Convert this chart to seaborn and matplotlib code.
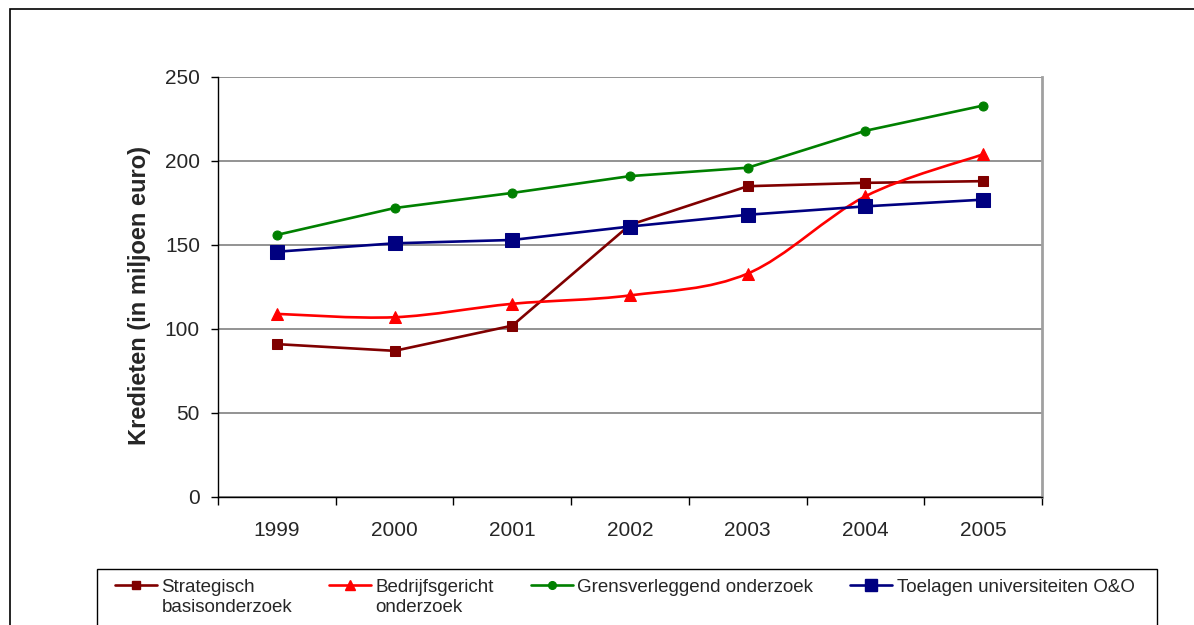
import numpy as np
import pandas as pd
import seaborn as sns
import matplotlib.pyplot as plt
from matplotlib.path import Path
from matplotlib.patches import PathPatch, Rectangle
from matplotlib.lines import Line2D
from matplotlib.legend_handler import HandlerLine2D

# ---------- data ----------
jaren = ['1999', '2000', '2001', '2002', '2003', '2004', '2005']
strategisch = [91, 87, 102, 162, 185, 187, 188]
bedrijfsgericht = [109, 107, 115, 120, 133, 179, 204]
grensverleggend = [156, 172, 181, 191, 196, 218, 233]
toelagen = [146, 151, 153, 161, 168, 173, 177]

labels = ['Strategisch\nbasisonderzoek', 'Bedrijfsgericht\nonderzoek',
          'Grensverleggend onderzoek\n ', 'Toelagen universiteiten O&O\n ']
kleuren = ['#800000', '#ff0000', '#008000', '#000080']
markers = ['s', '^', 'o', 's']
msizes = [6.5, 8, 6.5, 9.5]

sns.set_style('white')
plt.rcParams['font.family'] = ['Liberation Sans', 'DejaVu Sans']

fig = plt.figure(figsize=(11.94, 6.25), dpi=100)
ax = fig.add_axes([218 / 1194, 1 - 497 / 625, (1042 - 218) / 1194, (497 - 77) / 625])

x = np.arange(len(jaren))
series = [strategisch, bedrijfsgericht, grensverleggend, toelagen]

for i, (vals, kl, mk, ms) in enumerate(zip(series, kleuren, markers, msizes)):
    lw = 0 if i == 1 else 1.9
    sns.lineplot(x=x, y=vals, ax=ax, color=kl, marker=mk, markersize=ms,
                 markeredgecolor=kl, linewidth=lw, zorder=3 + i)

# smoothed line (Excel-style) for Bedrijfsgericht onderzoek
pts = np.column_stack([x, bedrijfsgericht]).astype(float)
ext = np.vstack([pts[0], pts, pts[-1]])
verts = [tuple(pts[0])]
codes = [Path.MOVETO]
for k in range(len(pts) - 1):
    p0, p1, p2, p3 = ext[k], ext[k + 1], ext[k + 2], ext[k + 3]
    c1 = p1 + (p2 - p0) / 6
    c2 = p2 - (p3 - p1) / 6
    verts += [tuple(c1), tuple(c2), tuple(p2)]
    codes += [Path.CURVE4] * 3
ax.add_patch(PathPatch(Path(verts, codes), facecolor='none', edgecolor=kleuren[1],
                       linewidth=1.9, zorder=3))

# ---------- axes ----------
ax.set_xlim(-0.5, len(jaren) - 0.5)
ax.set_ylim(0, 250)
ax.set_yticks(np.arange(0, 251, 50))
ax.set_xticks(np.arange(-0.5, len(jaren), 1))
ax.set_xticklabels([])
ax.set_xticks(x, minor=True)
ax.set_xticklabels(jaren, minor=True)
ax.tick_params(axis='x', which='major', direction='out', length=6, width=1, color='black', bottom=True)
ax.tick_params(axis='x', which='minor', length=0, pad=17, labelsize=15)
ax.tick_params(axis='y', direction='out', length=5, width=1, color='black', left=True, labelsize=15, pad=8)
ax.yaxis.grid(True, color='#808080', linewidth=1.2)
ax.set_axisbelow(True)
for s in ['left', 'bottom']:
    ax.spines[s].set_color('black')
    ax.spines[s].set_linewidth(1)
ax.spines['top'].set_visible(False)
ax.spines['right'].set_color('#a0a0a0')
ax.spines['right'].set_linewidth(2)
ax.set_ylabel('Kredieten (in miljoen euro)', fontsize=17, fontweight='bold', labelpad=10)
ax.yaxis.label.set_y(0.48)
ax.set_xlabel('')

# ---------- frame and legend ----------
fig.patches.append(Rectangle((10 / 1194, -0.05), 1.1, 1 - 9 / 625 + 0.05,
                             transform=fig.transFigure, fill=False, edgecolor='black',
                             linewidth=1.2, zorder=0))
fig.patches.append(Rectangle((97 / 1194, -0.05), (1157 - 97) / 1194, 1 - 569 / 625 + 0.05,
                             transform=fig.transFigure, fill=False, edgecolor='black',
                             linewidth=1, zorder=0))


class HandlerBoven(HandlerLine2D):
    # legend handle next to the first line of a two-line label
    def create_artists(self, legend, orig_handle, xdescent, ydescent, width, height, fontsize, trans):
        return super().create_artists(legend, orig_handle, xdescent, ydescent - 17,
                                      width, height, fontsize, trans)


handles = [Line2D([], [], color=kl, marker=mk, markersize=ms * 0.85, linewidth=1.9)
           for kl, mk, ms in zip(kleuren, markers, msizes)]
leg = fig.legend(handles, labels, ncol=4, loc='upper left',
                 bbox_to_anchor=(107 / 1194, 1 - 571 / 625), frameon=False,
                 fontsize=13.5, handlelength=2.25, handletextpad=0.25, columnspacing=1.95,
                 borderaxespad=0, handler_map={Line2D: HandlerBoven()})
for t in leg.get_texts():
    t.set_linespacing(1.25)

fig.savefig('out.png', dpi=100)
